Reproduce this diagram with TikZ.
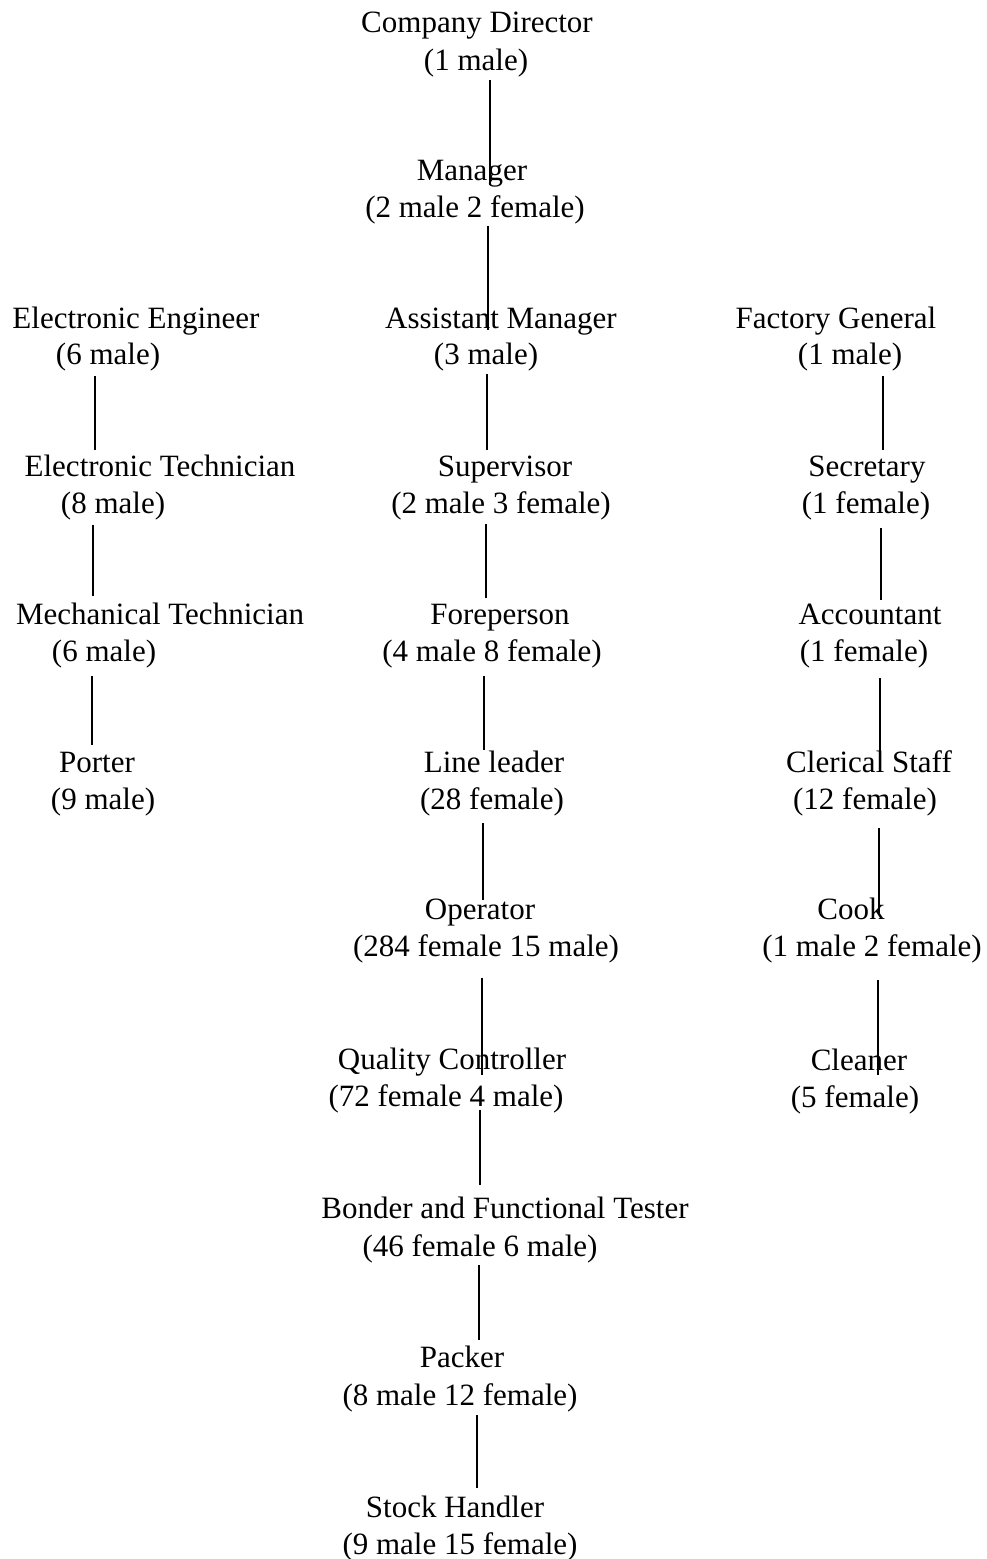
\documentclass[tikz,border=0pt]{standalone}
\usepackage{fontspec}
\setmainfont{Liberation Serif}
\begin{document}
\begin{tikzpicture}[x=1pt,y=-1pt,
  lbl/.style={anchor=base,inner sep=0pt,font=\fontsize{31}{37}\selectfont},
  link/.style={line width=1.3pt,black}]
\useasboundingbox[fill=white] (0,0) rectangle (987,1559);
% centre column
\node[lbl] (cdA) at (477,32) {Company Director};
\node[lbl] (cdB) at (476,70) {(1 male)};
\node[lbl] (mgA) at (472,180) {Manager};
\node[lbl] (mgB) at (475,217) {(2 male 2 female)};
\node[lbl] (amA) at (501,328) {Assistant Manager};
\node[lbl] (amB) at (486,364) {(3 male)};
\node[lbl] (svA) at (505,476) {Supervisor};
\node[lbl] (svB) at (501,513) {(2 male 3 female)};
\node[lbl] (fpA) at (500,624) {Foreperson};
\node[lbl] (fpB) at (492,661) {(4 male 8 female)};
\node[lbl] (llA) at (494,772) {Line leader};
\node[lbl] (llB) at (492,809) {(28 female)};
\node[lbl] (opA) at (480,919) {Operator};
\node[lbl] (opB) at (486,956) {(284 female 15 male)};
\node[lbl] (qcA) at (452,1069) {Quality Controller};
\node[lbl] (qcB) at (446,1106) {(72 female 4 male)};
\node[lbl] (bfA) at (505,1218) {Bonder and Functional Tester};
\node[lbl] (bfB) at (480,1256) {(46 female 6 male)};
\node[lbl] (pkA) at (462,1367) {Packer};
\node[lbl] (pkB) at (460,1405) {(8 male 12 female)};
\node[lbl] (shA) at (455,1517) {Stock Handler};
\node[lbl] (shB) at (460,1554) {(9 male 15 female)};
% left column
\node[lbl] (eeA) at (136,328) {Electronic Engineer};
\node[lbl] (eeB) at (108,364) {(6 male)};
\node[lbl] (etA) at (160,476) {Electronic Technician};
\node[lbl] (etB) at (113,513) {(8 male)};
\node[lbl] (mtA) at (160,624) {Mechanical Technician};
\node[lbl] (mtB) at (104,661) {(6 male)};
\node[lbl] (ptA) at (97,772) {Porter};
\node[lbl] (ptB) at (103,809) {(9 male)};
% right column
\node[lbl] (fgA) at (836,328) {Factory General};
\node[lbl] (fgB) at (850,364) {(1 male)};
\node[lbl] (scA) at (867,476) {Secretary};
\node[lbl] (scB) at (866,513) {(1 female)};
\node[lbl] (acA) at (870,624) {Accountant};
\node[lbl] (acB) at (864,661) {(1 female)};
\node[lbl] (csA) at (869,772) {Clerical Staff};
\node[lbl] (csB) at (865,809) {(12 female)};
\node[lbl] (ckA) at (851,919) {Cook};
\node[lbl] (ckB) at (872,956) {(1 male 2 female)};
\node[lbl] (clA) at (859,1070) {Cleaner};
\node[lbl] (clB) at (855,1107) {(5 female)};
% connector end points
\coordinate (m1) at (490,80);   \coordinate (m2) at (490,185);
\coordinate (m3) at (488,226);  \coordinate (m4) at (488,330);
\coordinate (m5) at (487,374);  \coordinate (m6) at (487,450);
\coordinate (m7) at (486,524);  \coordinate (m8) at (486,598);
\coordinate (m9) at (484,676);  \coordinate (m10) at (484,750);
\coordinate (m11) at (483,823); \coordinate (m12) at (483,900);
\coordinate (m13) at (482,978); \coordinate (m14) at (482,1075);
\coordinate (m15) at (480,1110);\coordinate (m16) at (480,1185);
\coordinate (m17) at (479,1265);\coordinate (m18) at (479,1340);
\coordinate (m19) at (477,1415);\coordinate (m20) at (477,1488);
\coordinate (l1) at (95,376);   \coordinate (l2) at (95,450);
\coordinate (l3) at (93,525);   \coordinate (l4) at (93,596);
\coordinate (l5) at (92,676);   \coordinate (l6) at (92,745);
\coordinate (r1) at (883,376);  \coordinate (r2) at (883,450);
\coordinate (r3) at (881,528);  \coordinate (r4) at (881,600);
\coordinate (r5) at (880,678);  \coordinate (r6) at (880,772);
\coordinate (r7) at (879,828);  \coordinate (r8) at (879,913);
\coordinate (r9) at (878,980);  \coordinate (r10) at (878,1075);
\foreach \a/\b in {m1/m2,m3/m4,m5/m6,m7/m8,m9/m10,m11/m12,m13/m14,m15/m16,m17/m18,m19/m20,l1/l2,l3/l4,l5/l6,r1/r2,r3/r4,r5/r6,r7/r8,r9/r10}
  \draw[link] (\a) -- (\b);
\end{tikzpicture}
\end{document}
